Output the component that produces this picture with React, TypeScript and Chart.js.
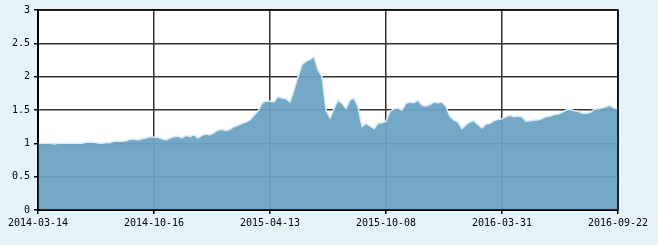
import React, { useEffect, useRef } from "react";
import { Chart, registerables } from "chart.js";

Chart.register(...registerables);

const tickLabels = ["2014-03-14", "2014-10-16", "2015-04-13", "2015-10-08", "2016-03-31", "2016-09-22"];

const navValues = [
  1.00, 1.00, 1.00, 1.00, 0.99, 1.00, 1.00, 1.00, 1.00, 1.00,
  1.00, 1.00, 1.015, 1.015, 1.015, 1.005, 1.00, 1.01, 1.01, 1.03,
  1.03, 1.03, 1.04, 1.06, 1.065, 1.05, 1.07, 1.08, 1.10, 1.09,
  1.09, 1.07, 1.05, 1.08, 1.10, 1.11, 1.08, 1.12, 1.10, 1.13,
  1.08, 1.12, 1.14, 1.13, 1.16, 1.20, 1.21, 1.19, 1.21, 1.25,
  1.27, 1.30, 1.32, 1.35, 1.42, 1.48, 1.60, 1.64, 1.63, 1.62,
  1.70, 1.68, 1.67, 1.62, 1.80, 2.00, 2.18, 2.23, 2.26, 2.30,
  2.10, 2.00, 1.50, 1.38, 1.52, 1.65, 1.60, 1.52, 1.65, 1.68,
  1.55, 1.25, 1.30, 1.26, 1.22, 1.30, 1.31, 1.33, 1.48, 1.52,
  1.53, 1.50, 1.60, 1.62, 1.61, 1.65, 1.57, 1.56, 1.58, 1.62,
  1.61, 1.62, 1.55, 1.40, 1.35, 1.32, 1.22, 1.28, 1.32, 1.34,
  1.28, 1.23, 1.29, 1.30, 1.34, 1.36, 1.37, 1.40, 1.42, 1.40,
  1.41, 1.40, 1.33, 1.34, 1.35, 1.35, 1.37, 1.40, 1.41, 1.43,
  1.44, 1.46, 1.50, 1.51, 1.49, 1.48, 1.45, 1.45, 1.46, 1.51,
  1.52, 1.53, 1.55, 1.57, 1.53, 1.52,
];

const yTicks = [0, 0.5, 1, 1.5, 2, 2.5, 3];
const yTickLabels = ["0", "0.5", "1", "1.5", "2", "2.5", "3"];

export default function App() {
  const ref = useRef<HTMLCanvasElement | null>(null);

  useEffect(() => {
    document.body.style.margin = "0";
    const canvas = ref.current;
    if (!canvas) return;
    const n = navValues.length;
    const step = (n - 1) / (tickLabels.length - 1);
    const font = { family: "'DejaVu Sans Mono', monospace", size: 10 };
    const chart = new Chart(canvas, {
      type: "line",
      data: {
        datasets: [
          {
            data: navValues.map((v, i) => ({ x: i, y: v })),
            fill: "origin",
            backgroundColor: "rgba(108,163,194,0.94)",
            borderColor: "rgba(214,236,250,1)",
            borderWidth: 1.5,
            pointRadius: 0,
            tension: 0,
          },
        ],
      },
      options: {
        animation: false,
        responsive: false,
        layout: { padding: { top: 10, right: 40, left: 0, bottom: 0 } },
        plugins: { legend: { display: false }, tooltip: { enabled: false } },
        scales: {
          x: {
            type: "linear",
            min: 0,
            max: n - 1,
            afterBuildTicks: (s: any) => {
              s.ticks = tickLabels.map((_, i) => ({ value: i * step }));
            },
            afterFit: (s: any) => {
              s.height = 35;
            },
            ticks: {
              autoSkip: false,
              maxRotation: 0,
              color: "#000",
              font,
              padding: 3,
              callback: (v: any) => tickLabels[Math.round(Number(v) / step)] ?? "",
            },
            grid: { color: "#333", lineWidth: 1.5, tickLength: 4, tickColor: "#000" },
            border: { color: "#000", width: 2 },
          },
          y: {
            min: 0,
            max: 3,
            afterBuildTicks: (s: any) => {
              s.ticks = yTicks.map((v) => ({ value: v }));
            },
            afterFit: (s: any) => {
              s.width = 38;
            },
            ticks: {
              color: "#000",
              font,
              padding: 4,
              callback: (v: any) => {
                const k = yTicks.indexOf(Number(v));
                return k >= 0 ? yTickLabels[k] : "";
              },
            },
            grid: { color: "#333", lineWidth: 1.5, tickLength: 4, tickColor: "#000" },
            border: { color: "#000", width: 2 },
          },
        },
      },
      plugins: [
        {
          id: "bg",
          beforeDraw: (c: any) => {
            const ctx = c.ctx;
            ctx.save();
            ctx.fillStyle = "#e7f3fb";
            ctx.fillRect(0, 0, c.width, c.height);
            const a = c.chartArea;
            ctx.fillStyle = "#ffffff";
            ctx.fillRect(a.left, a.top, a.right - a.left, a.bottom - a.top);
            ctx.restore();
          },
          afterDraw: (c: any) => {
            const ctx = c.ctx;
            const a = c.chartArea;
            ctx.save();
            ctx.strokeStyle = "#000";
            ctx.lineWidth = 1.5;
            ctx.strokeRect(a.left, a.top, a.right - a.left, a.bottom - a.top);
            ctx.restore();
          },
        },
      ],
    } as any);
    return () => chart.destroy();
  }, []);

  return (
    <div style={{ width: 658, height: 245, background: "#e7f3fb" }}>
      <canvas ref={ref} width={658} height={245} style={{ display: "block" }} />
    </div>
  );
}
